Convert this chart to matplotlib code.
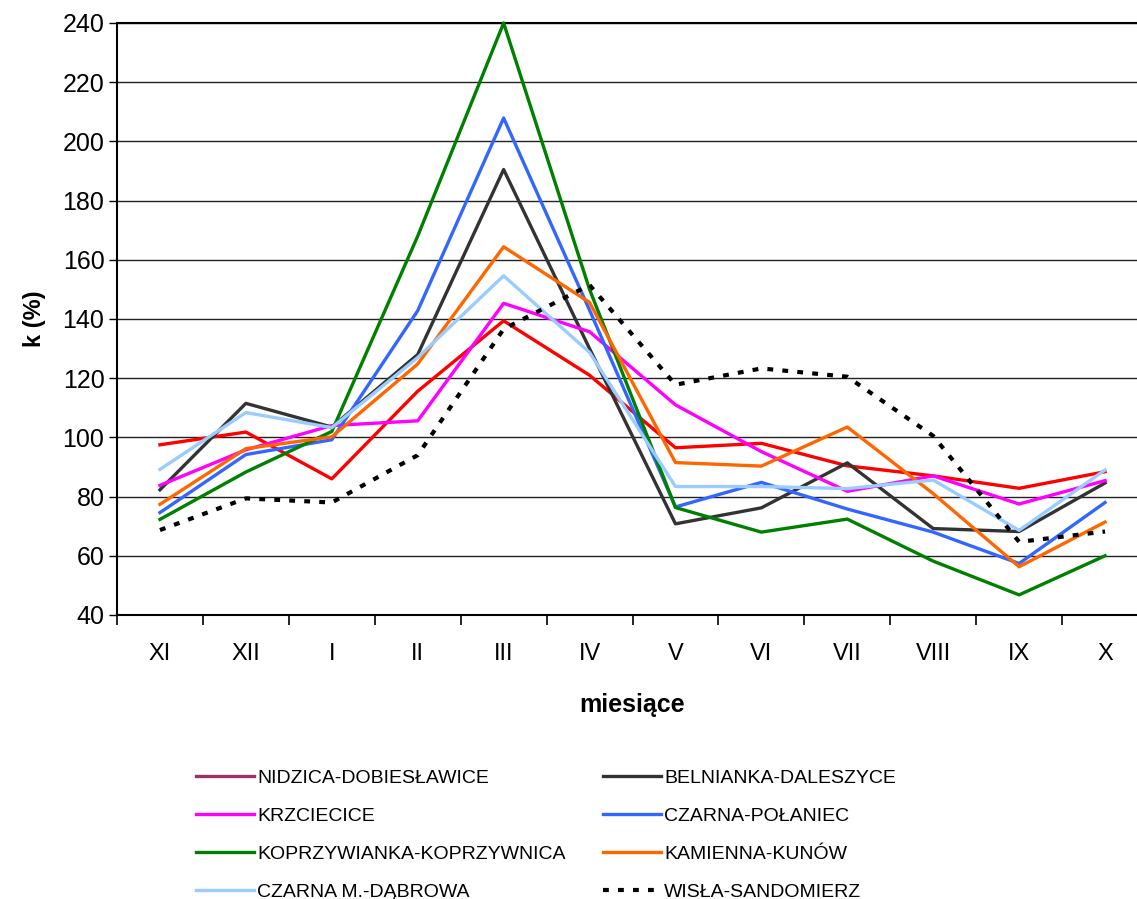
import matplotlib
matplotlib.use("Agg")
import matplotlib.pyplot as plt
from matplotlib.lines import Line2D
from matplotlib.ticker import MultipleLocator

plt.rcParams['font.family'] = ['Liberation Sans', 'DejaVu Sans']

months = ["XI", "XII", "I", "II", "III", "IV", "V", "VI", "VII", "VIII", "IX", "X"]

nidzica = [97.5, 101.8, 86.0, 115.6, 139.4, 121.0, 96.5, 98.0, 90.4, 87.0, 82.8, 88.4]
belnianka = [82.3, 111.5, 103.5, 128.0, 190.5, 130.0, 70.8, 76.2, 91.4, 69.2, 68.2, 84.6]
krzciecice = [83.8, 95.8, 104.0, 105.6, 145.3, 135.7, 111.0, 95.2, 81.8, 87.0, 77.5, 85.4]
czarna_polaniec = [74.6, 94.2, 99.2, 142.8, 207.9, 143.0, 76.5, 84.8, 75.8, 68.0, 57.4, 78.0]
koprzywianka = [72.3, 88.3, 102.0, 168.0, 240.0, 150.0, 76.3, 68.0, 72.4, 58.2, 46.8, 60.0]
kamienna = [77.4, 96.2, 100.2, 124.8, 164.4, 145.6, 91.5, 90.3, 103.5, 81.0, 56.3, 71.4]
czarna_dabrowa = [89.2, 108.4, 103.3, 127.0, 154.6, 128.7, 83.4, 83.4, 82.7, 85.6, 68.6, 89.0]
wisla = [68.7, 79.4, 78.0, 94.0, 136.6, 151.5, 117.8, 123.3, 120.5, 100.5, 64.7, 68.2]

series = [
    ("NIDZICA-DOBIESŁAWICE", nidzica, "#FF0000", "-"),
    ("BELNIANKA-DALESZYCE", belnianka, "#333333", "-"),
    ("KRZCIECICE", krzciecice, "#FF00FF", "-"),
    ("CZARNA-POŁANIEC", czarna_polaniec, "#3366FF", "-"),
    ("KOPRZYWIANKA-KOPRZYWNICA", koprzywianka, "#008000", "-"),
    ("KAMIENNA-KUNÓW", kamienna, "#FF6600", "-"),
    ("CZARNA M.-DĄBROWA", czarna_dabrowa, "#99CCFF", "-"),
    ("WISŁA-SANDOMIERZ", wisla, "#000000", (0, (1.4, 2.2))),
]

fig = plt.figure(figsize=(11.37, 8.99), dpi=100)
ax = fig.add_axes([117 / 1137, 1 - 615 / 899, 1031 / 1137, 592 / 899])

x = list(range(len(months)))
handles = []
for name, vals, color, ls in series:
    lw = 3.0 if name.startswith("WISŁA") else 2.4
    line, = ax.plot(x, vals, color=color, linestyle=ls, linewidth=lw,
                    label=name, clip_on=False, zorder=3)
    handles.append(line)

# legend swatch for the first series is drawn in maroon
handles[0] = Line2D([], [], color="#993366", linewidth=2.4)

ax.set_xlim(-0.5, len(months) - 0.5)
ax.set_ylim(40, 240)
ax.yaxis.set_major_locator(MultipleLocator(20))
ax.set_xticks(x)
ax.set_xticklabels(months)
ax.set_xticks([i + 0.5 for i in range(-1, len(months))], minor=True)
ax.tick_params(axis="x", which="major", length=0, pad=20, labelsize=17)
ax.tick_params(axis="x", which="minor", length=7, width=1.2, direction="out")
ax.tick_params(axis="y", length=6, width=1.0, direction="out", labelsize=18, pad=3)

ax.grid(axis="y", color="#222222", linewidth=1.0, zorder=0)
ax.set_axisbelow(True)
ax.spines["right"].set_visible(False)
for side in ("top", "left", "bottom"):
    ax.spines[side].set_linewidth(1.5)

ax.set_ylabel("k (%)", fontsize=17, fontweight="bold", labelpad=12)
ax.set_xlabel("miesiące", fontsize=18, fontweight="bold", labelpad=20)

order = [0, 2, 4, 6, 1, 3, 5, 7]
fig.legend([handles[i] for i in order], [series[i][0] for i in order],
           loc="upper left", bbox_to_anchor=(196 / 1137, 1 - 769 / 899),
           ncol=2, frameon=False, fontsize=14, handlelength=3.0,
           handletextpad=0.15, labelspacing=1.05, columnspacing=1.9,
           borderpad=0, borderaxespad=0)

fig.savefig("out.png", dpi=100)
